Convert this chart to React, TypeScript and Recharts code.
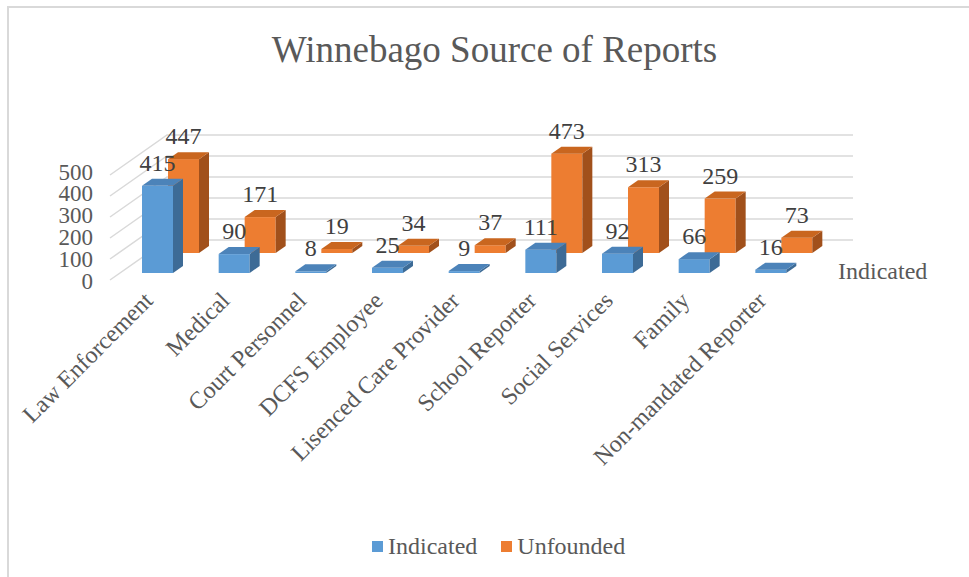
import { Bar, BarChart, CartesianGrid, Customized, LabelList, XAxis, YAxis } from "recharts";

const categories = [
  "Law Enforcement",
  "Medical",
  "Court Personnel",
  "DCFS Employee",
  "Lisenced Care Provider",
  "School Reporter",
  "Social Services",
  "Family",
  "Non-mandated Reporter",
];
const indicated = [415, 90, 8, 25, 9, 111, 92, 66, 16];
const unfounded = [447, 171, 19, 34, 37, 473, 313, 259, 73];
const yTicks = [0, 100, 200, 300, 400, 500];

const data = categories.map((category, i) => ({
  category,
  indicated: indicated[i],
  unfounded: unfounded[i],
}));

const FONT = "'Liberation Serif', 'Times New Roman', serif";
const TEXT = "#595959";
const GRID = "#d9d9d9";

// fake 3D: box depth and the offset of the back row (Unfounded)
const DEPTH_X = 10;
const DEPTH_Y = 7;
const ROW_X = 26;
const ROW_Y = -20;

const BLUE = { front: "#5b9bd5", top: "#4c83b9", side: "#3d6b96" };
const ORANGE = { front: "#ed7d31", top: "#c9661f", side: "#a1501b" };

function boxShape(colors: typeof BLUE, ox: number, oy: number) {
  return (props: any) => {
    const x = props.x + ox;
    const y = props.y + oy;
    const w = props.width;
    const h = Math.max(props.height, 0);
    return (
      <g>
        <rect x={x} y={y} width={w} height={h} fill={colors.front} />
        <polygon
          points={`${x + w},${y} ${x + w + DEPTH_X},${y - DEPTH_Y} ${x + w + DEPTH_X},${y + h - DEPTH_Y} ${x + w},${y + h}`}
          fill={colors.side}
        />
        <polygon
          points={`${x},${y} ${x + DEPTH_X},${y - DEPTH_Y} ${x + w + DEPTH_X},${y - DEPTH_Y} ${x + w},${y}`}
          fill={colors.top}
        />
      </g>
    );
  };
}

function valueLabel(ox: number, oy: number) {
  return (props: any) => (
    <text
      x={props.x + props.width / 2 + ox}
      y={props.y + oy - 23}
      textAnchor="middle"
      dominantBaseline="central"
      fontFamily={FONT}
      fontSize={24}
      fill="#404040"
    >
      {props.value}
    </text>
  );
}

const gridLine = (p: any) => {
  const { x1, x2, y1 } = p;
  const pts = `${x1 - 9},${y1 + 7} ${x1 + 48},${y1 - 33} ${x2 + 44},${y1 - 33}`;
  return <polyline key={p.key ?? p.index} points={pts} fill="none" stroke={GRID} strokeWidth={1.5} />;
};

const CategoryTick = (props: any) => {
  const { x, y, payload } = props;
  return (
    <text
      transform={`translate(${x - 3},${y + 21}) rotate(-45)`}
      textAnchor="end"
      fontFamily={FONT}
      fontSize={24}
      fill={TEXT}
    >
      {payload.value}
    </text>
  );
};

// labels sit on the slanted front edge of the side wall, so they spread a bit wider than the bars
const ValueTick = (props: any) => {
  const { x, y, payload } = props;
  const dy = 8 - payload.value / 125;
  return (
    <text x={x - 18} y={y + dy} textAnchor="end" dominantBaseline="central" fontFamily={FONT} fontSize={23} fill={TEXT}>
      {payload.value}
    </text>
  );
};

const DepthLabel = () => (
  <text x={838} y={271} dominantBaseline="central" fontFamily={FONT} fontSize={24} fill={TEXT}>
    Indicated
  </text>
);

const legendItems = [
  { name: "Indicated", color: BLUE.front },
  { name: "Unfounded", color: ORANGE.front },
];

export default function App() {
  return (
    <div style={{ position: "fixed", left: 0, top: 0, width: 969, height: 577, overflow: "hidden", background: "#fff" }}>
      <div
        style={{
          position: "absolute",
          left: 7,
          top: 6,
          width: 1000,
          height: 620,
          border: `2px solid ${GRID}`,
          boxSizing: "border-box",
        }}
      />
      <div
        style={{
          position: "absolute",
          left: 7,
          top: 28,
          width: 975,
          textAlign: "center",
          fontFamily: FONT,
          fontSize: 37,
          lineHeight: "44px",
          color: TEXT,
        }}
      >
        Winnebago Source of Reports
      </div>
      <div style={{ position: "absolute", left: 0, top: 0 }}>
        <BarChart
          width={969}
          height={577}
          data={data}
          margin={{ top: 168, right: 160, bottom: 274, left: 59 }}
          barSize={31}
          barGap={-31}
        >
          <CartesianGrid vertical={false} horizontal={gridLine} />
          <XAxis dataKey="category" axisLine={false} tickLine={false} interval={0} height={30} tick={<CategoryTick />} />
          <YAxis
            domain={[0, 500]}
            ticks={yTicks}
            interval={0}
            axisLine={false}
            tickLine={false}
            width={60}
            tick={<ValueTick />}
          />
          <Bar dataKey="unfounded" name="Unfounded" isAnimationActive={false} shape={boxShape(ORANGE, ROW_X, ROW_Y)}>
            <LabelList dataKey="unfounded" content={valueLabel(ROW_X, ROW_Y)} />
          </Bar>
          <Bar dataKey="indicated" name="Indicated" isAnimationActive={false} shape={boxShape(BLUE, 0, 0)}>
            <LabelList dataKey="indicated" content={valueLabel(0, 0)} />
          </Bar>
          <Customized component={DepthLabel} />
        </BarChart>
      </div>
      <div
        style={{
          position: "absolute",
          left: 372,
          top: 533,
          display: "flex",
          alignItems: "center",
          fontFamily: FONT,
          fontSize: 24,
          lineHeight: "26px",
          color: TEXT,
        }}
      >
        {legendItems.map((item) => (
          <div key={item.name} style={{ display: "flex", alignItems: "center", marginRight: 24 }}>
            <span style={{ width: 11, height: 11, background: item.color, marginRight: 5 }} />
            {item.name}
          </div>
        ))}
      </div>
    </div>
  );
}
